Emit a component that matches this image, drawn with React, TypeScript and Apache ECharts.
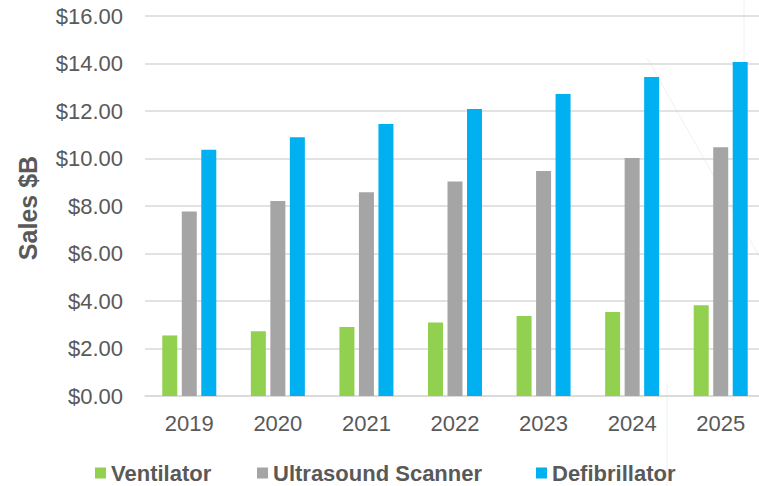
import React, { useEffect, useRef } from "react";
import * as echarts from "echarts";

const years = ["2019", "2020", "2021", "2022", "2023", "2024", "2025"];
const ventilator = [2.55, 2.73, 2.91, 3.1, 3.37, 3.54, 3.82];
const ultrasound = [7.77, 8.21, 8.58, 9.03, 9.47, 10.02, 10.47];
const defibrillator = [10.37, 10.9, 11.45, 12.08, 12.72, 13.43, 14.06];

const FONT = "'Liberation Sans', Arial, sans-serif";
const TEXT = "#595959";

export default function App() {
  const ref = useRef<HTMLDivElement>(null);
  useEffect(() => {
    if (!ref.current) return;
    const chart = echarts.init(ref.current, null, { renderer: "svg" });
    const legendText = { color: TEXT, fontSize: 22, fontWeight: "bold", fontFamily: FONT, lineHeight: 22 };
    const mkLegend = (name: string, left: number) => ({
      data: [name],
      left,
      top: 460,
      padding: 2,
      icon: "rect",
      itemWidth: 11,
      itemHeight: 11,
      textStyle: legendText,
      selectedMode: false,
    });
    chart.setOption({
      animation: false,
      backgroundColor: "#ffffff",
      grid: { left: 145, right: 5, top: 16, bottom: 90, containLabel: false },
      legend: [
        mkLegend("Ventilator", 93),
        mkLegend("Ultrasound Scanner", 255),
        mkLegend("Defibrillator", 534),
      ],
      xAxis: {
        type: "category",
        data: years,
        axisTick: { show: false },
        axisLine: { lineStyle: { color: "#d9d9d9", width: 1.5 } },
        axisLabel: { color: TEXT, fontSize: 22, fontFamily: FONT, margin: 16 },
      },
      yAxis: {
        type: "value",
        min: 0,
        max: 16,
        interval: 2,
        axisLine: { show: false },
        axisTick: { show: false },
        splitLine: { lineStyle: { color: "#d9d9d9", width: 1.5 } },
        axisLabel: {
          color: TEXT,
          fontSize: 22,
          fontFamily: FONT,
          margin: 22,
          formatter: (v: number) => "$" + v.toFixed(2),
        },
      },
      graphic: [
        {
          type: "line",
          silent: true,
          shape: { x1: 744, y1: 0, x2: 744, y2: 120 },
          style: { stroke: "#eef1f1", lineWidth: 1 },
          z: -1,
        },
        {
          type: "line",
          silent: true,
          shape: { x1: 647, y1: 58, x2: 759, y2: 256 },
          style: { stroke: "#eef1f1", lineWidth: 1 },
          z: -1,
        },
        {
          type: "line",
          silent: true,
          shape: { x1: 667, y1: 383, x2: 667, y2: 486 },
          style: { stroke: "#eef1f1", lineWidth: 1 },
          z: -1,
        },
        {
          type: "text",
          x: 28,
          y: 208,
          rotation: Math.PI / 2,
          style: {
            text: "Sales $B",
            fill: TEXT,
            font: "bold 25px 'Liberation Sans', Arial, sans-serif",
            textAlign: "center",
            textVerticalAlign: "middle",
          },
        },
      ],
      series: [
        {
          name: "Ventilator",
          type: "bar",
          data: ventilator,
          barWidth: 15,
          barGap: "30%",
          itemStyle: { color: "#92D050" },
        },
        {
          name: "Ultrasound Scanner",
          type: "bar",
          data: ultrasound,
          barWidth: 15,
          barGap: "30%",
          itemStyle: { color: "#A5A5A5" },
        },
        {
          name: "Defibrillator",
          type: "bar",
          data: defibrillator,
          barWidth: 15,
          barGap: "30%",
          itemStyle: { color: "#00B0F0" },
        },
      ],
    });
    return () => chart.dispose();
  }, []);
  return (
    <div
      ref={ref}
      style={{ position: "fixed", left: 0, top: 0, width: 770, height: 486 }}
    />
  );
}
